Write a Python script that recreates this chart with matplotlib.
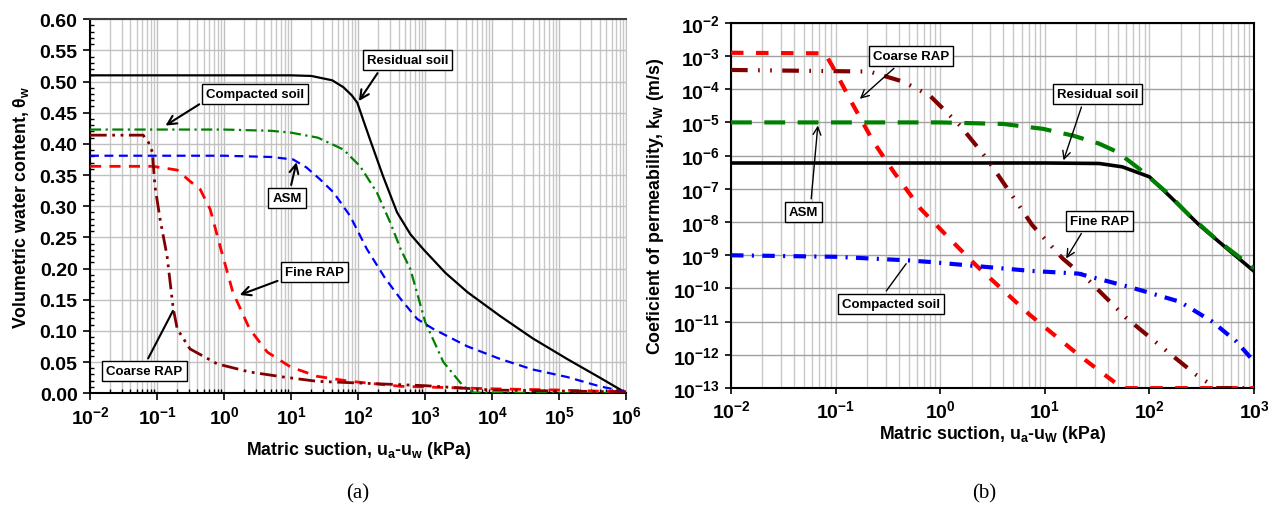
import matplotlib.pyplot as plt
import matplotlib.ticker as mticker
import numpy as np

plt.rcParams['font.family'] = ['Liberation Sans', 'DejaVu Sans']
plt.rcParams['font.weight'] = 'bold'
plt.rcParams['mathtext.fontset'] = 'custom'
plt.rcParams['mathtext.rm'] = 'Liberation Sans:bold'
plt.rcParams['mathtext.it'] = 'Liberation Sans:bold'
plt.rcParams['mathtext.bf'] = 'Liberation Sans:bold'
plt.rcParams['mathtext.default'] = 'rm'

# (a) soil-water characteristic curves: suction (kPa), volumetric water content
res_s = [0.01, 1, 10, 20, 41, 60, 80, 97, 120, 150, 235, 380, 600, 935, 2000, 4270, 13000, 40000, 130000, 400000, 1e6]
res_t = [0.510, 0.510, 0.510, 0.509, 0.502, 0.491, 0.478, 0.466, 0.437, 0.407, 0.348, 0.290, 0.255, 0.231, 0.193, 0.162, 0.124, 0.088, 0.055, 0.025, 0.0]

com_s = [0.01, 1, 5, 10, 25, 60, 107, 190, 300, 430, 600, 1000, 1860, 3700, 5200, 1e5, 1e6]
com_t = [0.423, 0.423, 0.421, 0.418, 0.410, 0.391, 0.364, 0.322, 0.274, 0.231, 0.199, 0.114, 0.050, 0.011, 0.001, 0.0, 0.0]

asm_s = [0.01, 1, 5, 10.7, 17, 27, 43, 76, 135, 250, 430, 760, 1320, 4270, 13000, 40000, 130000, 400000, 1e6]
asm_t = [0.381, 0.381, 0.379, 0.375, 0.362, 0.343, 0.322, 0.284, 0.231, 0.185, 0.151, 0.119, 0.103, 0.075, 0.055, 0.038, 0.026, 0.011, 0.002]

fine_s = [0.01, 0.087, 0.2, 0.31, 0.44, 0.62, 0.87, 1.35, 2.4, 4.4, 9.8, 24.5, 76, 430, 1e4, 1e5, 1e6]
fine_t = [0.364, 0.364, 0.358, 0.340, 0.327, 0.295, 0.236, 0.162, 0.103, 0.066, 0.042, 0.027, 0.019, 0.011, 0.007, 0.005, 0.002]

coarse_s = [0.01, 0.062, 0.074, 0.085, 0.093, 0.111, 0.141, 0.174, 0.2, 0.31, 0.79, 2.4, 7.6, 24.5, 1000, 1e4, 1e6]
coarse_t = [0.414, 0.414, 0.403, 0.387, 0.332, 0.279, 0.220, 0.136, 0.103, 0.071, 0.047, 0.034, 0.026, 0.019, 0.012, 0.005, 0.002]

# (b) permeability functions: suction (kPa), k (m/s)
kres_s = [0.01, 10, 33, 55, 100, 166, 302, 550, 1000]
kres_k = [6e-7, 6e-7, 5.8e-7, 4.6e-7, 2.3e-7, 5e-8, 7.9e-9, 1.6e-9, 3.3e-10]

kasm_s = [0.01, 1, 4, 9.6, 18.6, 33, 49, 80, 145, 240, 436, 1000]
kasm_k = [1e-5, 1e-5, 9e-6, 6.4e-6, 4e-6, 2.3e-6, 1.3e-6, 4e-7, 8e-8, 1.6e-8, 3e-9, 4e-10]

kcoarse_s = [0.01, 0.079, 0.093, 0.148, 0.23, 0.36, 0.65, 1.32, 2.2, 3.5, 7.2, 21, 55, 1000]
kcoarse_k = [1.25e-3, 1.2e-3, 5e-4, 3.2e-5, 2.6e-6, 3.2e-7, 2.5e-8, 2.5e-9, 5e-10, 1.3e-10, 1.6e-11, 1e-12, 1e-13, 1e-13]

kfine_s = [0.01, 0.21, 0.44, 0.8, 1.55, 2.8, 4.4, 7.6, 14.8, 27, 60, 135, 280, 436, 1000]
kfine_k = [3.8e-4, 3.4e-4, 1.7e-4, 6.3e-5, 8e-6, 8e-7, 1e-7, 8e-9, 8e-10, 1.6e-10, 1.3e-11, 1.6e-12, 2.5e-13, 1e-13, 1e-13]

kcom_s = [0.01, 0.1, 0.5, 0.79, 7.2, 21, 65, 195, 400, 680, 1000]
kcom_k = [1e-9, 9e-10, 7e-10, 6.3e-10, 3.4e-10, 2.8e-10, 1.1e-10, 4e-11, 1e-11, 2.5e-12, 6.3e-13]

fig = plt.figure(figsize=(12.68, 5.06), dpi=100)
ax1 = fig.add_axes([0.071, 0.221, 0.423, 0.739])
ax2 = fig.add_axes([0.5765, 0.231, 0.4125, 0.722])

box = dict(boxstyle='square,pad=0.3', fc='white', ec='black', lw=1)
TICK = 14
LAB = 12.75

def pow_fmt(v, pos):
    return r'$10^{%d}$' % int(round(np.log10(v)))

# ---- panel (a)
ax1.plot(res_s, res_t, color='black', lw=1.6, ls='-', zorder=5)
ax1.plot(com_s, com_t, color='green', lw=1.6, dashes=[5, 2, 1, 2], zorder=5)
ax1.plot(asm_s, asm_t, color='blue', lw=1.6, dashes=[4, 2.5], zorder=5)
ax1.plot(fine_s, fine_t, color='red', lw=2.0, dashes=[4, 3], zorder=5)
ax1.plot(coarse_s, coarse_t, color='#7f0000', lw=2.0, dashes=[6, 2, 1, 2, 1, 2], zorder=5)

ax1.set_xscale('log')
ax1.set_xlim(1e-2, 1e6)
ax1.set_ylim(0, 0.6)
ax1.xaxis.set_major_locator(mticker.LogLocator(base=10, numticks=20))
ax1.xaxis.set_minor_locator(mticker.LogLocator(base=10, subs=np.arange(2, 10), numticks=20))
ax1.xaxis.set_major_formatter(mticker.FuncFormatter(pow_fmt))
ax1.xaxis.set_minor_formatter(mticker.NullFormatter())
ax1.yaxis.set_major_locator(mticker.MultipleLocator(0.05))
ax1.yaxis.set_minor_locator(mticker.MultipleLocator(0.01))
ax1.yaxis.set_major_formatter(mticker.FormatStrFormatter('%.2f'))
ax1.grid(True, which='major', color='#c0c0c0', lw=1)
ax1.grid(True, which='minor', axis='x', color='#c8c8c8', lw=1)
ax1.set_axisbelow(True)
ax1.tick_params(which='major', direction='out', length=5, width=1.2, labelsize=TICK, pad=4)
ax1.tick_params(which='minor', direction='in', length=3, width=1)
ax1.set_xlabel('Matric suction, $u_a$-$u_w$ (kPa)', fontsize=LAB, fontweight='bold', labelpad=8)
ax1.set_ylabel(r'Volumetric water content, $\theta_w$', fontsize=LAB, fontweight='bold', labelpad=6)
for sp in ['left', 'bottom']:
    ax1.spines[sp].set_color('black')
    ax1.spines[sp].set_linewidth(1.5)
ax1.spines['top'].set_color('#404040')
ax1.spines['top'].set_linewidth(1.5)
ax1.spines['right'].set_color('#c0c0c0')

arr = dict(arrowstyle='->', color='black', lw=1.5, mutation_scale=16)
ax1.annotate('Residual soil', xy=(97, 0.465), xytext=(540, 0.534), fontsize=9.5, fontweight='bold',
             ha='center', va='center', bbox=box, arrowprops=dict(arr, relpos=(0.19, 0)), zorder=10)
ax1.annotate('Compacted soil', xy=(0.123, 0.427), xytext=(2.9, 0.48), fontsize=9.5, fontweight='bold',
             ha='center', va='center', bbox=box, arrowprops=dict(arr, relpos=(0, 0)), zorder=10)
ax1.annotate('ASM', xy=(12.3, 0.375), xytext=(8.7, 0.313), fontsize=9.5, fontweight='bold',
             ha='center', va='center', bbox=box, arrowprops=dict(arr, relpos=(0.58, 1)), zorder=10)
ax1.annotate('Fine RAP', xy=(1.56, 0.156), xytext=(22, 0.194), fontsize=9.5, fontweight='bold',
             ha='center', va='center', bbox=box, arrowprops=dict(arr, relpos=(0, 0)), zorder=10)
ax1.annotate('Coarse RAP', xy=(0.18, 0.136), xytext=(0.065, 0.035), fontsize=9.5, fontweight='bold',
             ha='center', va='center', bbox=box,
             arrowprops=dict(arrowstyle='-', color='black', lw=1.5, relpos=(0.5, 1)), zorder=10)

# ---- panel (b)
ax2.plot(kres_s, kres_k, color='black', lw=2.6, ls='-', zorder=5)
ax2.plot(kasm_s, kasm_k, color='green', lw=3, dashes=[5, 3], zorder=5)
ax2.plot(kcoarse_s, kcoarse_k, color='red', lw=3, dashes=[3, 3], zorder=5)
ax2.plot(kfine_s, kfine_k, color='#7f0000', lw=3, dashes=[4, 2.5, 0.4, 2.5, 0.4, 2.5], zorder=5)
ax2.plot(kcom_s, kcom_k, color='blue', lw=3, dashes=[3, 2, 0.5, 2], zorder=5)

ax2.set_xscale('log')
ax2.set_yscale('log')
ax2.set_xlim(1e-2, 1e3)
ax2.set_ylim(1e-13, 1e-2)
ax2.xaxis.set_major_locator(mticker.LogLocator(base=10, numticks=20))
ax2.xaxis.set_minor_locator(mticker.LogLocator(base=10, subs=np.arange(2, 10), numticks=20))
ax2.xaxis.set_major_formatter(mticker.FuncFormatter(pow_fmt))
ax2.xaxis.set_minor_formatter(mticker.NullFormatter())
ax2.yaxis.set_major_locator(mticker.LogLocator(base=10, numticks=20))
ax2.yaxis.set_minor_locator(mticker.NullLocator())
ax2.yaxis.set_major_formatter(mticker.FuncFormatter(pow_fmt))
ax2.grid(True, which='major', axis='y', color='#a0a0a0', lw=1)
ax2.grid(True, which='both', axis='x', color='#c8c8c8', lw=1)
ax2.set_axisbelow(True)
ax2.tick_params(which='major', direction='out', length=4, width=1.2, labelsize=TICK, pad=4)
ax2.tick_params(which='minor', length=0)
ax2.set_xlabel('Matric suction, $u_a$-$u_W$ (kPa)', fontsize=LAB, fontweight='bold', labelpad=1)
ax2.set_ylabel('Coeficient of permeability, $k_W$ (m/s)', fontsize=LAB, fontweight='bold', labelpad=5)
for sp in ax2.spines.values():
    sp.set_color('black')
    sp.set_linewidth(1.5)

arr2 = dict(arrowstyle='->', color='black', lw=1, mutation_scale=14)
ax2.annotate('Coarse RAP', xy=(0.163, 4.5e-5), xytext=(0.525, 1.0e-3), fontsize=9.5, fontweight='bold',
             ha='center', va='center', bbox=box, arrowprops=dict(arr2, relpos=(0.37, 0)), zorder=10)
ax2.annotate('ASM', xy=(0.068, 9.8e-6), xytext=(0.049, 2e-8), fontsize=9.5, fontweight='bold',
             ha='center', va='center', bbox=box, arrowprops=dict(arr2, relpos=(0.75, 1)), zorder=10)
ax2.annotate('Residual soil', xy=(14.8, 6e-7), xytext=(32, 7.2e-5), fontsize=9.5, fontweight='bold',
             ha='center', va='center', bbox=box, arrowprops=dict(arr2, relpos=(0.33, 0)), zorder=10)
ax2.annotate('Fine RAP', xy=(15.5, 6.8e-10), xytext=(33, 1.1e-8), fontsize=9.5, fontweight='bold',
             ha='center', va='center', bbox=box, arrowprops=dict(arr2, relpos=(0.27, 0)), zorder=10)
ax2.annotate('Compacted soil', xy=(0.49, 6.5e-10), xytext=(0.34, 3.5e-11), fontsize=9.5, fontweight='bold',
             ha='center', va='center', bbox=box,
             arrowprops=dict(arrowstyle='-', color='black', lw=1, relpos=(0.4, 1)), zorder=10)

fig.text(358 / 1268, 1 - 494 / 506, '(a)', fontsize=15, fontweight='normal',
         family='Liberation Serif', ha='center', va='center')
fig.text(984 / 1268, 1 - 494 / 506, '(b)', fontsize=15, fontweight='normal',
         family='Liberation Serif', ha='center', va='center')

fig.savefig('out.png', dpi=100)
